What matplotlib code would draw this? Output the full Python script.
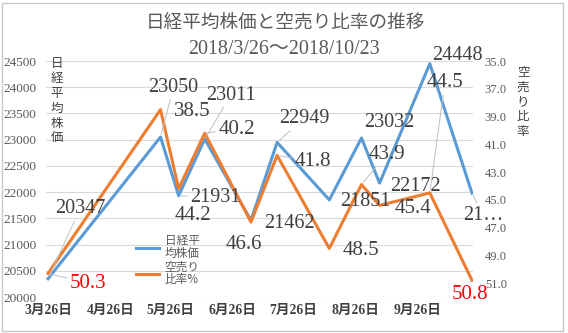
import matplotlib
matplotlib.use("Agg")
import matplotlib.pyplot as plt
import matplotlib.dates as mdates
import pandas as pd

# data
dates = pd.to_datetime(['2018-03-26', '2018-05-21', '2018-05-30', '2018-06-12', '2018-07-05',
                        '2018-07-18', '2018-08-13', '2018-08-29', '2018-09-07', '2018-10-02',
                        '2018-10-23'])
nikkei = [20347, 23050, 21931, 23011, 21462, 22949, 21851, 23032, 22172, 24448, 21980]
short_ratio = [50.3, 38.5, 44.2, 40.2, 46.6, 41.8, 48.5, 43.9, 45.4, 44.5, 50.8]
tick_dates = pd.to_datetime(['2018-03-26', '2018-04-26', '2018-05-26', '2018-06-26',
                             '2018-07-26', '2018-08-26', '2018-09-26'])
tick_labels = ['3月26日', '4月26日', '5月26日', '6月26日', '7月26日', '8月26日', '9月26日']

# label offsets in pixels (dx, dy) and whether a leader line is drawn
blue_off = [(32, 70), (13, 50), (37, -2), (26, 44), (38, -3), (27, 24),
            (36, -2), (28, 15), (36, -3), (28, 8), (11, -22)]
blue_lead = [True, True, True, True, False, True, False, False, False, False, True]
orange_off = [(40, -10), (32, -2), (14, -27), (32, 4), (-7, -22), (36, -6),
              (32, -2), (25, 30), (33, -3), (15, 110), (-2, -14)]
orange_lead = [True, False, False, True, False, True, False, True, False, True, False]

BLUE = '#5B9BD5'
ORANGE = '#ED7D31'
SERIF = ['Liberation Serif', 'Noto Sans CJK JP']
CJK = ['Noto Sans CJK JP', 'DejaVu Sans']
plt.rcParams['font.family'] = CJK

W, H = 568, 333
fig = plt.figure(figsize=(W / 100, H / 100), dpi=100)
ax = fig.add_axes([46 / W, 1 - 297 / H, (473 - 46) / W, (297 - 61) / H])
ax2 = ax.twinx()

l1, = ax.plot(dates, nikkei, color=BLUE, lw=2.2, label='日経平\n均株価')
l2, = ax2.plot(dates, short_ratio, color=ORANGE, lw=2.2, label='空売り\n比率%')

ax.set_ylim(20000, 24500)
ax.set_yticks(range(20000, 24501, 500))
ax2.set_ylim(52, 35)
ax2.set_yticks([35, 37, 39, 41, 43, 45, 47, 49, 51])
ax2.set_yticklabels(['%.1f' % v for v in [35, 37, 39, 41, 43, 45, 47, 49, 51]])
ax.set_xlim(pd.Timestamp('2018-03-25'), pd.Timestamp('2018-10-23 12:00'))
ax.set_xticks(tick_dates)
ax.set_xticklabels(tick_labels)

ax.grid(axis='y', color='#D9D9D9', lw=0.8)
ax.set_axisbelow(True)
for a in (ax, ax2):
    for s in a.spines.values():
        s.set_visible(False)
ax.tick_params(axis='y', length=0, pad=7, labelsize=9.5, labelcolor='#595959')
ax2.tick_params(axis='y', length=0, pad=8.5, labelsize=9, labelcolor='#595959')
ax.tick_params(axis='x', length=0, pad=5, labelsize=9.8, labelcolor='#404040')
for t in ax.get_yticklabels() + ax2.get_yticklabels():
    t.set_family(SERIF)
for t in ax.get_xticklabels():
    t.set_family(SERIF)
    t.set_fontweight('bold')

# data labels
xnum = mdates.date2num(dates)
lead = dict(arrowstyle='-', color='#BFBFBF', lw=0.7, shrinkA=0, shrinkB=2)
for i, (d, v) in enumerate(zip(xnum, nikkei)):
    txt = str(v) if i < len(nikkei) - 1 else '21…'
    ax2.annotate(txt, xy=(d, v), xycoords=ax.transData, xytext=blue_off[i],
                 textcoords='offset pixels', ha='center', va='center',
                 fontsize=14.5, color='#404040', family=SERIF,
                 arrowprops=lead if blue_lead[i] else None, annotation_clip=False)
for i, (d, v) in enumerate(zip(xnum, short_ratio)):
    red = i == 0 or i == len(short_ratio) - 1
    ax2.annotate('%.1f' % v, xy=(d, v), xycoords=ax2.transData, xytext=orange_off[i],
                 textcoords='offset pixels', ha='center', va='center',
                 fontsize=15, color='#FF0000' if red else '#404040', family=SERIF,
                 arrowprops=lead if orange_lead[i] else None, annotation_clip=False)

# titles
fig.text(285 / W, 1 - 23 / H, '日経平均株価と空売り比率の推移', ha='center', va='center',
         fontsize=13.4, color='#595959')
fig.text(284 / W, 1 - 49 / H, '2018/3/26～2018/10/23', ha='center', va='center',
         fontsize=14.4, color='#595959', family=SERIF)

# stacked axis titles
fig.text(57 / W, 1 - 101 / H, '\n'.join('日経平均株価'), ha='center', va='center',
         fontsize=9, color='#404040', linespacing=1.18)
fig.text(523 / W, 1 - 102 / H, '\n'.join('空売り比率'), ha='center', va='center',
         fontsize=9, color='#404040', linespacing=1.18)

leg = fig.legend(handles=[l1, l2], loc='upper left', bbox_to_anchor=(136 / W, 1 - 234 / H),
                 frameon=False, fontsize=8.4, handlelength=2.0, handletextpad=0.45,
                 labelspacing=0.1, borderpad=0, borderaxespad=0)
for t in leg.get_texts():
    t.set_color('#595959')
    t.set_linespacing(0.95)

fig.add_artist(plt.Rectangle((1.5 / W, 2.5 / H), (563 - 1.5) / W, (330 - 2.5) / H,
                             transform=fig.transFigure, fill=False, ec='#C8C8C8', lw=1))

fig.savefig('out.png', dpi=100)
